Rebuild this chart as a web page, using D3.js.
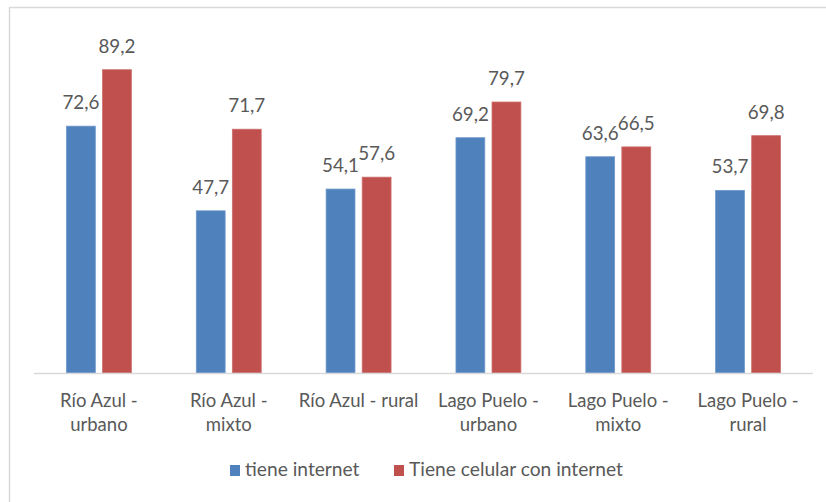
<!DOCTYPE html>
<html><head><meta charset="utf-8">
<script src="https://cdn.jsdelivr.net/npm/d3@7"></script>
<style>body{margin:0;background:#fff}svg{display:block}</style>
</head><body>
<svg id="c" width="826" height="502"></svg>
<script>
const categories = [["Río Azul -","urbano"],["Río Azul -","mixto"],["Río Azul - rural"],["Lago Puelo -","urbano"],["Lago Puelo -","mixto"],["Lago Puelo -","rural"]];
const seriesNames = ["tiene internet","Tiene celular con internet"];
const tieneInternet = [72.6,47.7,54.1,69.2,63.6,53.7];
const celularInternet = [89.2,71.7,57.6,79.7,66.5,69.8];
const colors = ["#4F81BD","#C0504D"];
const values = [tieneInternet, celularInternet];

const FONT = "Lato, 'Noto Sans', sans-serif";
const FS = 18.5;
const svg = d3.select("#c");
svg.append("rect").attr("x",9.5).attr("y",7.5).attr("width",840).attr("height",520)
  .attr("fill","#fff").attr("stroke","#d9d9d9").attr("stroke-width",1.5);

const ids = categories.map((c,i)=>i);
const x0 = d3.scaleBand().domain(ids).range([34,813]).paddingInner(0.5).paddingOuter(0.25);
const x1 = d3.scaleBand().domain([0,1]).range([0,x0.bandwidth()]).paddingInner(0.2);
const y = d3.scaleLinear().domain([0,100]).range([373,33]);

const g = svg.append("g");
ids.forEach(i=>{
  [0,1].forEach(s=>{
    const v = values[s][i];
    const bx = x0(i)+x1(s);
    g.append("rect").attr("x",bx).attr("y",y(v)).attr("width",x1.bandwidth()).attr("height",y(0)-y(v))
      .attr("fill",colors[s]).attr("stroke", s===0?"#6f98cc":"#cc6f6c").attr("stroke-width",0.8);
    g.append("text").attr("x",bx+x1.bandwidth()/2).attr("y",y(v)-17)
      .attr("text-anchor","middle").attr("font-family",FONT).attr("font-size",FS+0.3).attr("fill","#595959")
      .text(d3.format(".1f")(v).replace(".",","));
  });
});

svg.append("line").attr("x1",34).attr("x2",813).attr("y1",y(0)+0.5).attr("y2",y(0)+0.5)
  .attr("stroke","#d9d9d9").attr("stroke-width",1.5);

ids.forEach(i=>{
  const t = svg.append("text").attr("text-anchor","middle").attr("font-family",FONT)
    .attr("font-size",FS).attr("fill","#595959");
  categories[i].forEach((line,k)=>{
    t.append("tspan").attr("x",x0(i)+x0.bandwidth()/2).attr("y",406.5+k*24).text(line);
  });
});

const legendX = [230, 394];
seriesNames.forEach((n,s)=>{
  svg.append("rect").attr("x",legendX[s]).attr("y",465).attr("width",10).attr("height",11).attr("fill",colors[s]);
  svg.append("text").attr("x",legendX[s]+15).attr("y",475.5).attr("font-family",FONT).attr("font-size",19.2)
    .attr("fill","#595959").text(n);
});
</script>
</body></html>
